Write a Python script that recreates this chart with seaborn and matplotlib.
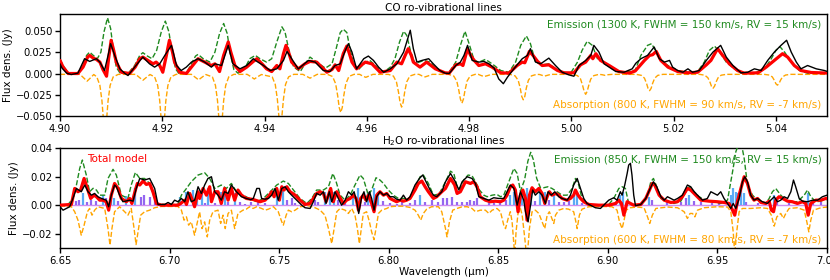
import matplotlib
matplotlib.use("Agg")
import matplotlib.pyplot as plt
import seaborn as sns

# ---------------- CO panel data (wavelength in micron, flux in Jy) ----------------
co_emission = [(4.9000,0.0165),(4.9006,0.0094),(4.9016,0.0008),(4.9035,0.0000),(4.9045,0.0094),(4.9052,0.0213),(4.9058,0.0252),(4.9065,0.0213),(4.9073,0.0174),(4.9080,0.0252),(4.9086,0.0489),(4.9093,0.0655),(4.9099,0.0529),(4.9104,0.0292),(4.9110,0.0075),(4.9117,0.0008),(4.9133,0.0000),(4.9146,0.0094),(4.9156,0.0213),(4.9162,0.0245),(4.9171,0.0205),(4.9180,0.0174),(4.9189,0.0272),(4.9198,0.0489),(4.9206,0.0616),(4.9213,0.0489),(4.9219,0.0252),(4.9226,0.0055),(4.9232,0.0004),(4.9247,0.0004),(4.9257,0.0114),(4.9265,0.0205),(4.9270,0.0225),(4.9280,0.0174),(4.9293,0.0134),(4.9303,0.0252),(4.9312,0.0470),(4.9320,0.0588),(4.9327,0.0470),(4.9333,0.0233),(4.9340,0.0047),(4.9348,0.0004),(4.9361,0.0055),(4.9371,0.0174),(4.9382,0.0213),(4.9391,0.0174),(4.9404,0.0134),(4.9414,0.0174),(4.9424,0.0371),(4.9434,0.0549),(4.9440,0.0489),(4.9447,0.0292),(4.9457,0.0075),(4.9470,0.0023),(4.9479,0.0114),(4.9489,0.0193),(4.9502,0.0134),(4.9519,0.0063),(4.9532,0.0114),(4.9540,0.0292),(4.9548,0.0481),(4.9554,0.0521),(4.9561,0.0481),(4.9567,0.0292),(4.9575,0.0094),(4.9584,0.0047),(4.9597,0.0134),(4.9606,0.0154),(4.9620,0.0075),(4.9633,0.0015),(4.9646,0.0075),(4.9655,0.0174),(4.9664,0.0371),(4.9672,0.0497),(4.9678,0.0450),(4.9686,0.0252),(4.9694,0.0114),(4.9711,0.0154),(4.9724,0.0134),(4.9737,0.0047),(4.9750,0.0004),(4.9761,0.0015),(4.9774,0.0134),(4.9783,0.0331),(4.9792,0.0497),(4.9800,0.0351),(4.9810,0.0154),(4.9819,0.0134),(4.9832,0.0166),(4.9845,0.0114),(4.9862,0.0035),(4.9878,0.0015),(4.9891,0.0134),(4.9901,0.0331),(4.9912,0.0442),(4.9920,0.0351),(4.9930,0.0134),(4.9943,0.0102),(4.9956,0.0114),(4.9969,0.0055),(4.9982,0.0015),(4.9999,0.0008),(5.0012,0.0134),(5.0021,0.0272),(5.0031,0.0379),(5.0041,0.0331),(5.0051,0.0174),(5.0067,0.0114),(5.0080,0.0055),(5.0100,0.0008),(5.0125,0.0040),(5.0136,0.0213),(5.0149,0.0331),(5.0157,0.0351),(5.0166,0.0252),(5.0175,0.0154),(5.0189,0.0094),(5.0208,0.0035),(5.0228,0.0015),(5.0247,0.0023),(5.0260,0.0134),(5.0270,0.0272),(5.0280,0.0323),(5.0290,0.0252),(5.0303,0.0134),(5.0319,0.0055),(5.0332,0.0004),(5.0358,0.0004),(5.0378,0.0055),(5.0391,0.0174),(5.0400,0.0272),(5.0408,0.0315),(5.0417,0.0252),(5.0430,0.0134),(5.0446,0.0035),(5.0462,0.0004),(5.0505,0.0004)]

co_absorption = [(4.9000,-0.0010),(4.9039,-0.0010),(4.9047,-0.0055),(4.9053,-0.0090),(4.9059,-0.0055),(4.9066,-0.0012),(4.9072,-0.0040),(4.9078,-0.0140),(4.9082,-0.0320),(4.9085,-0.0550),(4.9088,-0.0800),(4.9091,-0.0550),(4.9094,-0.0320),(4.9098,-0.0140),(4.9104,-0.0040),(4.9114,-0.0010),(4.9148,-0.0010),(4.9156,-0.0050),(4.9162,-0.0080),(4.9168,-0.0050),(4.9176,-0.0012),(4.9185,-0.0040),(4.9191,-0.0140),(4.9195,-0.0320),(4.9198,-0.0550),(4.9201,-0.0800),(4.9204,-0.0550),(4.9207,-0.0320),(4.9211,-0.0140),(4.9217,-0.0040),(4.9227,-0.0010),(4.9257,-0.0010),(4.9265,-0.0047),(4.9271,-0.0075),(4.9277,-0.0047),(4.9285,-0.0012),(4.9298,-0.0040),(4.9304,-0.0140),(4.9308,-0.0320),(4.9311,-0.0550),(4.9314,-0.0750),(4.9317,-0.0550),(4.9320,-0.0320),(4.9324,-0.0140),(4.9330,-0.0040),(4.9340,-0.0010),(4.9366,-0.0010),(4.9374,-0.0040),(4.9380,-0.0065),(4.9386,-0.0040),(4.9394,-0.0012),(4.9415,-0.0040),(4.9421,-0.0130),(4.9425,-0.0300),(4.9428,-0.0500),(4.9431,-0.0650),(4.9434,-0.0500),(4.9437,-0.0300),(4.9441,-0.0130),(4.9447,-0.0040),(4.9457,-0.0010),(4.9475,-0.0010),(4.9483,-0.0035),(4.9489,-0.0055),(4.9495,-0.0035),(4.9503,-0.0010),(4.9523,-0.0010),(4.9533,-0.0035),(4.9539,-0.0120),(4.9543,-0.0260),(4.9546,-0.0400),(4.9549,-0.0459),(4.9552,-0.0400),(4.9555,-0.0260),(4.9559,-0.0120),(4.9565,-0.0035),(4.9575,-0.0010),(4.9586,-0.0010),(4.9592,-0.0030),(4.9598,-0.0045),(4.9604,-0.0030),(4.9612,-0.0010),(4.9642,-0.0010),(4.9652,-0.0030),(4.9658,-0.0100),(4.9662,-0.0220),(4.9665,-0.0340),(4.9668,-0.0395),(4.9671,-0.0340),(4.9674,-0.0220),(4.9678,-0.0100),(4.9684,-0.0030),(4.9694,-0.0010),(4.9702,-0.0010),(4.9708,-0.0028),(4.9714,-0.0040),(4.9720,-0.0028),(4.9728,-0.0010),(4.9760,-0.0010),(4.9770,-0.0030),(4.9776,-0.0090),(4.9780,-0.0200),(4.9783,-0.0300),(4.9786,-0.0350),(4.9789,-0.0300),(4.9792,-0.0200),(4.9796,-0.0090),(4.9802,-0.0030),(4.9812,-0.0010),(4.9818,-0.0010),(4.9824,-0.0025),(4.9830,-0.0035),(4.9836,-0.0025),(4.9844,-0.0010),(4.9880,-0.0010),(4.9890,-0.0028),(4.9896,-0.0080),(4.9900,-0.0170),(4.9903,-0.0270),(4.9906,-0.0309),(4.9909,-0.0270),(4.9912,-0.0170),(4.9916,-0.0080),(4.9922,-0.0028),(4.9932,-0.0010),(4.9938,-0.0012),(4.9943,-0.0022),(4.9948,-0.0030),(4.9953,-0.0022),(4.9960,-0.0010),(5.0002,-0.0010),(5.0012,-0.0025),(5.0018,-0.0065),(5.0022,-0.0140),(5.0025,-0.0210),(5.0028,-0.0245),(5.0031,-0.0210),(5.0034,-0.0140),(5.0038,-0.0065),(5.0044,-0.0025),(5.0054,-0.0010),(5.0060,-0.0014),(5.0066,-0.0022),(5.0072,-0.0014),(5.0080,-0.0010),(5.0127,-0.0010),(5.0137,-0.0022),(5.0143,-0.0055),(5.0147,-0.0115),(5.0150,-0.0175),(5.0153,-0.0202),(5.0156,-0.0175),(5.0159,-0.0115),(5.0163,-0.0055),(5.0169,-0.0022),(5.0179,-0.0010),(5.0251,-0.0010),(5.0261,-0.0020),(5.0267,-0.0050),(5.0271,-0.0100),(5.0274,-0.0150),(5.0277,-0.0174),(5.0280,-0.0150),(5.0283,-0.0100),(5.0287,-0.0050),(5.0293,-0.0020),(5.0303,-0.0010),(5.0377,-0.0010),(5.0387,-0.0018),(5.0393,-0.0040),(5.0397,-0.0080),(5.0400,-0.0120),(5.0403,-0.0137),(5.0406,-0.0120),(5.0409,-0.0080),(5.0413,-0.0040),(5.0419,-0.0018),(5.0429,-0.0010),(5.0505,-0.0010)]

co_total = [(4.9000,0.0154),(4.9006,0.0075),(4.9016,0.0000),(4.9035,0.0000),(4.9045,0.0075),(4.9054,0.0193),(4.9058,0.0213),(4.9065,0.0181),(4.9071,0.0166),(4.9078,0.0134),(4.9084,0.0047),(4.9091,-0.0032),(4.9095,0.0174),(4.9100,0.0391),(4.9105,0.0272),(4.9110,0.0134),(4.9120,0.0015),(4.9136,0.0000),(4.9147,0.0075),(4.9156,0.0174),(4.9162,0.0193),(4.9172,0.0154),(4.9182,0.0114),(4.9188,0.0134),(4.9195,0.0094),(4.9201,0.0015),(4.9208,0.0213),(4.9214,0.0391),(4.9220,0.0252),(4.9224,0.0134),(4.9234,0.0015),(4.9247,0.0000),(4.9257,0.0075),(4.9270,0.0174),(4.9283,0.0134),(4.9296,0.0094),(4.9303,0.0114),(4.9312,0.0023),(4.9320,0.0213),(4.9329,0.0371),(4.9334,0.0252),(4.9342,0.0094),(4.9352,0.0023),(4.9365,0.0075),(4.9378,0.0142),(4.9385,0.0174),(4.9395,0.0114),(4.9404,0.0055),(4.9414,0.0023),(4.9424,0.0094),(4.9430,0.0055),(4.9437,0.0233),(4.9442,0.0331),(4.9448,0.0233),(4.9453,0.0134),(4.9466,0.0055),(4.9479,0.0114),(4.9489,0.0142),(4.9502,0.0134),(4.9522,0.0015),(4.9532,0.0047),(4.9538,0.0102),(4.9545,0.0035),(4.9554,0.0233),(4.9561,0.0323),(4.9566,0.0233),(4.9571,0.0134),(4.9580,0.0055),(4.9597,0.0134),(4.9610,0.0114),(4.9626,0.0015),(4.9646,0.0035),(4.9659,0.0134),(4.9668,0.0114),(4.9675,0.0213),(4.9681,0.0292),(4.9687,0.0213),(4.9691,0.0134),(4.9704,0.0075),(4.9717,0.0134),(4.9734,0.0055),(4.9753,0.0008),(4.9761,0.0004),(4.9774,0.0102),(4.9783,0.0114),(4.9788,0.0094),(4.9797,0.0292),(4.9803,0.0213),(4.9810,0.0154),(4.9819,0.0094),(4.9832,0.0114),(4.9845,0.0075),(4.9862,0.0008),(4.9878,0.0004),(4.9894,0.0094),(4.9904,0.0134),(4.9909,0.0126),(4.9918,0.0260),(4.9925,0.0213),(4.9934,0.0142),(4.9943,0.0094),(4.9956,0.0102),(4.9973,0.0035),(4.9986,0.0008),(5.0005,0.0008),(5.0018,0.0102),(5.0028,0.0134),(5.0038,0.0213),(5.0042,0.0174),(5.0048,0.0233),(5.0057,0.0154),(5.0074,0.0094),(5.0093,0.0023),(5.0113,0.0004),(5.0125,0.0030),(5.0143,0.0154),(5.0153,0.0213),(5.0159,0.0221),(5.0166,0.0260),(5.0175,0.0154),(5.0189,0.0075),(5.0208,0.0023),(5.0228,0.0008),(5.0247,0.0015),(5.0264,0.0102),(5.0273,0.0154),(5.0286,0.0292),(5.0296,0.0213),(5.0309,0.0114),(5.0325,0.0035),(5.0338,0.0004),(5.0365,0.0008),(5.0381,0.0075),(5.0397,0.0154),(5.0413,0.0233),(5.0423,0.0193),(5.0436,0.0094),(5.0449,0.0035),(5.0469,0.0012),(5.0505,0.0004)]

co_observed = [(4.9000,0.0114),(4.9004,0.0063),(4.9013,0.0004),(4.9022,-0.0012),(4.9035,0.0004),(4.9048,0.0174),(4.9058,0.0142),(4.9071,0.0174),(4.9078,0.0134),(4.9087,0.0035),(4.9094,0.0213),(4.9099,0.0351),(4.9107,0.0213),(4.9117,0.0055),(4.9127,0.0000),(4.9133,-0.0024),(4.9146,0.0075),(4.9162,0.0193),(4.9175,0.0114),(4.9185,0.0075),(4.9195,0.0114),(4.9205,0.0213),(4.9218,0.0331),(4.9228,0.0094),(4.9237,0.0035),(4.9247,0.0075),(4.9257,0.0134),(4.9270,0.0174),(4.9283,0.0134),(4.9296,0.0075),(4.9303,0.0114),(4.9316,0.0094),(4.9329,0.0331),(4.9338,0.0114),(4.9352,0.0055),(4.9365,0.0094),(4.9378,0.0174),(4.9385,0.0142),(4.9398,0.0094),(4.9411,0.0035),(4.9424,0.0055),(4.9437,0.0154),(4.9444,0.0260),(4.9453,0.0174),(4.9466,0.0055),(4.9486,0.0154),(4.9499,0.0134),(4.9515,0.0035),(4.9528,0.0023),(4.9538,0.0094),(4.9548,0.0114),(4.9558,0.0272),(4.9564,0.0351),(4.9571,0.0252),(4.9580,0.0055),(4.9594,0.0174),(4.9603,0.0205),(4.9613,0.0154),(4.9623,0.0075),(4.9633,0.0015),(4.9646,0.0055),(4.9659,0.0114),(4.9672,0.0252),(4.9685,0.0509),(4.9691,0.0292),(4.9698,0.0134),(4.9708,0.0154),(4.9721,0.0174),(4.9730,0.0114),(4.9743,0.0035),(4.9753,0.0004),(4.9761,0.0000),(4.9774,0.0094),(4.9783,0.0134),(4.9790,0.0213),(4.9797,0.0331),(4.9806,0.0154),(4.9819,0.0134),(4.9829,0.0142),(4.9839,0.0114),(4.9849,0.0063),(4.9858,-0.0064),(4.9867,-0.0120),(4.9875,-0.0044),(4.9885,0.0035),(4.9894,0.0102),(4.9904,0.0174),(4.9914,0.0213),(4.9920,0.0292),(4.9930,0.0134),(4.9940,0.0114),(4.9956,0.0181),(4.9969,0.0094),(4.9982,0.0015),(4.9995,-0.0016),(5.0005,-0.0032),(5.0015,0.0094),(5.0028,0.0154),(5.0038,0.0213),(5.0044,0.0331),(5.0054,0.0252),(5.0064,0.0114),(5.0074,0.0075),(5.0087,0.0023),(5.0103,0.0015),(5.0119,0.0055),(5.0126,0.0120),(5.0136,0.0174),(5.0149,0.0213),(5.0162,0.0312),(5.0172,0.0174),(5.0182,0.0134),(5.0192,0.0154),(5.0198,0.0075),(5.0208,0.0035),(5.0218,0.0015),(5.0228,0.0055),(5.0237,0.0015),(5.0250,0.0035),(5.0264,0.0154),(5.0277,0.0252),(5.0292,0.0331),(5.0303,0.0193),(5.0316,0.0094),(5.0332,0.0008),(5.0345,0.0015),(5.0358,0.0055),(5.0371,0.0035),(5.0384,0.0154),(5.0397,0.0252),(5.0410,0.0331),(5.0421,0.0391),(5.0430,0.0252),(5.0440,0.0134),(5.0449,0.0055),(5.0462,0.0094),(5.0479,0.0055),(5.0495,0.0035),(5.0505,0.0015)]

# ---------------- H2O panel data ----------------
h2o_emission = [(6.6500,0.0002),(6.6537,0.0007),(6.6559,0.0049),(6.6575,0.0143),(6.6590,0.0260),(6.6602,0.0318),(6.6620,0.0213),(6.6635,0.0096),(6.6651,0.0120),(6.6666,0.0108),(6.6681,0.0072),(6.6704,0.0072),(6.6719,0.0189),(6.6742,0.0253),(6.6757,0.0213),(6.6780,0.0072),(6.6810,0.0049),(6.6825,0.0143),(6.6844,0.0231),(6.6864,0.0189),(6.6886,0.0189),(6.6909,0.0154),(6.6932,0.0049),(6.6947,0.0007),(6.7038,0.0007),(6.7054,0.0072),(6.7077,0.0119),(6.7099,0.0166),(6.7130,0.0213),(6.7160,0.0229),(6.7183,0.0189),(6.7206,0.0119),(6.7236,0.0143),(6.7259,0.0119),(6.7282,0.0154),(6.7305,0.0096),(6.7335,0.0072),(6.7358,0.0054),(6.7381,0.0037),(6.7398,0.0026),(6.7428,0.0049),(6.7459,0.0096),(6.7489,0.0143),(6.7519,0.0171),(6.7542,0.0154),(6.7565,0.0108),(6.7595,0.0049),(6.7626,0.0014),(6.7649,0.0049),(6.7671,0.0108),(6.7702,0.0108),(6.7725,0.0131),(6.7745,0.0224),(6.7760,0.0166),(6.7778,0.0072),(6.7801,0.0037),(6.7824,0.0072),(6.7846,0.0143),(6.7869,0.0213),(6.7884,0.0189),(6.7907,0.0072),(6.7922,0.0108),(6.7942,0.0194),(6.7960,0.0178),(6.7976,0.0154),(6.7998,0.0108),(6.8021,0.0072),(6.8044,0.0049),(6.8067,0.0049),(6.8097,0.0049),(6.8120,0.0119),(6.8143,0.0201),(6.8158,0.0213),(6.8181,0.0154),(6.8204,0.0072),(6.8230,0.0080),(6.8259,0.0166),(6.8282,0.0240),(6.8297,0.0224),(6.8312,0.0131),(6.8327,0.0119),(6.8342,0.0178),(6.8362,0.0213),(6.8380,0.0208),(6.8396,0.0166),(6.8414,0.0108),(6.8434,0.0072),(6.8449,0.0061),(6.8472,0.0072),(6.8494,0.0077),(6.8510,0.0061),(6.8525,0.0072),(6.8548,0.0166),(6.8571,0.0259),(6.8586,0.0224),(6.8601,0.0100),(6.8620,0.0180),(6.8635,0.0310),(6.8648,0.0372),(6.8660,0.0320),(6.8675,0.0190),(6.8692,0.0125),(6.8707,0.0124),(6.8727,0.0131),(6.8745,0.0119),(6.8768,0.0096),(6.8791,0.0072),(6.8814,0.0072),(6.8837,0.0119),(6.8852,0.0189),(6.8867,0.0143),(6.8882,0.0049),(6.8905,0.0014),(6.8928,0.0002),(6.8974,0.0002),(6.9004,0.0007),(6.9027,0.0049),(6.9050,0.0119),(6.9065,0.0131),(6.9080,0.0119),(6.9095,0.0014),(6.9118,0.0002),(6.9150,0.0007),(6.9181,0.0072),(6.9196,0.0166),(6.9208,0.0189),(6.9223,0.0131),(6.9242,0.0049),(6.9272,0.0026),(6.9302,0.0014),(6.9333,0.0030),(6.9356,0.0096),(6.9371,0.0131),(6.9394,0.0096),(6.9416,0.0061),(6.9447,0.0037),(6.9485,0.0026),(6.9515,0.0014),(6.9546,0.0037),(6.9569,0.0236),(6.9584,0.0376),(6.9599,0.0440),(6.9607,0.0450),(6.9622,0.0330),(6.9637,0.0143),(6.9660,0.0072),(6.9683,0.0037),(6.9698,0.0026),(6.9721,0.0014),(6.9736,0.0049),(6.9751,0.0096),(6.9766,0.0119),(6.9789,0.0072),(6.9812,0.0037),(6.9835,0.0026),(6.9865,0.0026),(6.9896,0.0072),(6.9911,0.0108),(6.9926,0.0061),(6.9949,0.0026),(6.9972,0.0030),(6.9995,0.0049),(7.0000,0.0037)]

h2o_absorption = [(6.6500,-0.0002),(6.6552,-0.0009),(6.6567,-0.0044),(6.6582,-0.0103),(6.6597,-0.0208),(6.6610,-0.0138),(6.6625,-0.0044),(6.6635,-0.0021),(6.6646,-0.0068),(6.6658,-0.0033),(6.6673,-0.0009),(6.6704,-0.0021),(6.6719,-0.0162),(6.6728,-0.0278),(6.6737,-0.0162),(6.6749,-0.0044),(6.6772,-0.0009),(6.6795,-0.0044),(6.6810,-0.0068),(6.6825,-0.0021),(6.6838,-0.0162),(6.6847,-0.0274),(6.6856,-0.0185),(6.6868,-0.0068),(6.6886,-0.0044),(6.6909,-0.0033),(6.6932,-0.0016),(6.6962,-0.0007),(6.7038,-0.0007),(6.7054,-0.0033),(6.7066,-0.0103),(6.7077,-0.0080),(6.7087,-0.0138),(6.7099,-0.0115),(6.7114,-0.0208),(6.7127,-0.0115),(6.7137,-0.0044),(6.7148,-0.0162),(6.7160,-0.0115),(6.7172,-0.0220),(6.7183,-0.0103),(6.7198,-0.0044),(6.7221,-0.0033),(6.7233,-0.0126),(6.7244,-0.0068),(6.7254,-0.0162),(6.7267,-0.0056),(6.7282,-0.0033),(6.7297,-0.0162),(6.7312,-0.0056),(6.7335,-0.0033),(6.7350,-0.0026),(6.7365,-0.0009),(6.7381,-0.0021),(6.7398,-0.0009),(6.7420,-0.0021),(6.7436,-0.0033),(6.7451,-0.0026),(6.7474,-0.0009),(6.7496,-0.0044),(6.7512,-0.0115),(6.7519,-0.0138),(6.7532,-0.0068),(6.7542,-0.0033),(6.7557,-0.0044),(6.7573,-0.0033),(6.7595,-0.0009),(6.7633,-0.0002),(6.7664,-0.0016),(6.7687,-0.0033),(6.7709,-0.0068),(6.7725,-0.0162),(6.7740,-0.0267),(6.7751,-0.0162),(6.7763,-0.0044),(6.7778,-0.0021),(6.7801,-0.0033),(6.7816,-0.0056),(6.7831,-0.0021),(6.7846,-0.0068),(6.7857,-0.0162),(6.7866,-0.0267),(6.7875,-0.0162),(6.7884,-0.0056),(6.7899,-0.0044),(6.7912,-0.0115),(6.7922,-0.0185),(6.7933,-0.0239),(6.7942,-0.0162),(6.7953,-0.0056),(6.7968,-0.0033),(6.7991,-0.0021),(6.8006,-0.0009),(6.8036,-0.0005),(6.8067,-0.0005),(6.8097,-0.0014),(6.8120,-0.0033),(6.8135,-0.0068),(6.8146,-0.0103),(6.8158,-0.0056),(6.8173,-0.0026),(6.8196,-0.0009),(6.8227,-0.0009),(6.8242,-0.0044),(6.8259,-0.0162),(6.8266,-0.0220),(6.8277,-0.0115),(6.8292,-0.0033),(6.8312,-0.0021),(6.8335,-0.0009),(6.8358,-0.0009),(6.8380,-0.0021),(6.8396,-0.0044),(6.8418,-0.0033),(6.8441,-0.0033),(6.8457,-0.0056),(6.8472,-0.0033),(6.8494,-0.0021),(6.8510,-0.0044),(6.8525,-0.0138),(6.8533,-0.0162),(6.8545,-0.0091),(6.8555,-0.0044),(6.8563,-0.0115),(6.8571,-0.0278),(6.8575,-0.0350),(6.8581,-0.0185),(6.8590,-0.0056),(6.8601,-0.0021),(6.8609,-0.0068),(6.8621,-0.0232),(6.8631,-0.0380),(6.8642,-0.0162),(6.8654,-0.0044),(6.8669,-0.0033),(6.8685,-0.0056),(6.8700,-0.0115),(6.8712,-0.0162),(6.8723,-0.0068),(6.8733,-0.0044),(6.8742,-0.0080),(6.8753,-0.0126),(6.8761,-0.0068),(6.8776,-0.0033),(6.8799,-0.0021),(6.8821,-0.0026),(6.8844,-0.0044),(6.8852,-0.0100),(6.8860,-0.0162),(6.8870,-0.0068),(6.8882,-0.0026),(6.8913,-0.0009),(6.8974,-0.0007),(6.9019,-0.0009),(6.9042,-0.0033),(6.9053,-0.0115),(6.9065,-0.0162),(6.9074,-0.0103),(6.9083,-0.0033),(6.9103,-0.0016),(6.9133,-0.0011),(6.9165,-0.0016),(6.9181,-0.0080),(6.9191,-0.0126),(6.9203,-0.0068),(6.9219,-0.0021),(6.9272,-0.0011),(6.9318,-0.0016),(6.9348,-0.0044),(6.9363,-0.0091),(6.9375,-0.0056),(6.9386,-0.0056),(6.9397,-0.0080),(6.9409,-0.0033),(6.9439,-0.0016),(6.9500,-0.0009),(6.9546,-0.0011),(6.9561,-0.0044),(6.9572,-0.0185),(6.9579,-0.0340),(6.9588,-0.0185),(6.9599,-0.0044),(6.9614,-0.0021),(6.9652,-0.0021),(6.9698,-0.0016),(6.9728,-0.0021),(6.9746,-0.0068),(6.9759,-0.0145),(6.9771,-0.0080),(6.9789,-0.0056),(6.9801,-0.0091),(6.9812,-0.0056),(6.9827,-0.0021),(6.9865,-0.0016),(6.9896,-0.0033),(6.9908,-0.0115),(6.9917,-0.0185),(6.9926,-0.0103),(6.9938,-0.0033),(6.9972,-0.0016),(7.0000,-0.0011)]

h2o_total = [(6.6500,0.0002),(6.6552,0.0007),(6.6567,0.0119),(6.6582,0.0096),(6.6594,0.0108),(6.6610,0.0189),(6.6625,0.0119),(6.6640,0.0049),(6.6655,0.0072),(6.6666,0.0061),(6.6681,0.0037),(6.6696,0.0037),(6.6711,0.0026),(6.6722,-0.0033),(6.6734,0.0072),(6.6749,0.0154),(6.6765,0.0119),(6.6780,0.0049),(6.6803,0.0026),(6.6818,0.0049),(6.6828,0.0014),(6.6844,0.0108),(6.6853,0.0154),(6.6864,0.0143),(6.6879,0.0171),(6.6894,0.0147),(6.6909,0.0154),(6.6924,0.0096),(6.6940,0.0014),(6.6962,0.0002),(6.7038,0.0002),(6.7051,0.0014),(6.7069,0.0037),(6.7077,0.0007),(6.7092,0.0084),(6.7107,0.0026),(6.7114,-0.0009),(6.7130,0.0096),(6.7137,0.0049),(6.7153,0.0119),(6.7168,0.0072),(6.7183,0.0131),(6.7191,0.0026),(6.7206,0.0096),(6.7221,0.0096),(6.7236,0.0014),(6.7251,0.0119),(6.7267,0.0037),(6.7282,0.0119),(6.7297,0.0037),(6.7312,0.0108),(6.7328,0.0072),(6.7350,0.0049),(6.7381,0.0042),(6.7413,0.0026),(6.7436,0.0037),(6.7451,0.0061),(6.7466,0.0096),(6.7477,0.0061),(6.7489,0.0119),(6.7501,0.0037),(6.7512,0.0131),(6.7522,0.0108),(6.7535,0.0131),(6.7550,0.0096),(6.7573,0.0072),(6.7595,0.0037),(6.7618,0.0007),(6.7641,0.0014),(6.7656,0.0049),(6.7671,0.0084),(6.7687,0.0096),(6.7702,0.0084),(6.7714,0.0026),(6.7725,0.0072),(6.7735,0.0119),(6.7747,0.0026),(6.7763,0.0096),(6.7775,0.0061),(6.7793,0.0014),(6.7808,0.0037),(6.7824,0.0049),(6.7839,0.0072),(6.7851,0.0049),(6.7862,-0.0033),(6.7872,0.0049),(6.7884,0.0072),(6.7896,0.0037),(6.7907,0.0072),(6.7922,0.0014),(6.7933,-0.0044),(6.7945,0.0072),(6.7960,0.0096),(6.7976,0.0072),(6.7991,0.0084),(6.8006,0.0049),(6.8021,0.0037),(6.8036,0.0026),(6.8052,0.0037),(6.8067,0.0030),(6.8082,0.0037),(6.8097,0.0049),(6.8120,0.0108),(6.8135,0.0154),(6.8151,0.0171),(6.8166,0.0131),(6.8181,0.0096),(6.8204,0.0049),(6.8219,0.0061),(6.8242,0.0096),(6.8259,0.0119),(6.8282,0.0189),(6.8301,0.0143),(6.8312,0.0084),(6.8327,0.0096),(6.8350,0.0166),(6.8373,0.0154),(6.8388,0.0166),(6.8403,0.0131),(6.8418,0.0061),(6.8441,0.0037),(6.8464,0.0026),(6.8487,0.0030),(6.8510,0.0026),(6.8525,0.0037),(6.8540,0.0072),(6.8555,0.0131),(6.8566,0.0143),(6.8578,0.0108),(6.8590,-0.0044),(6.8601,0.0072),(6.8612,0.0108),(6.8624,0.0049),(6.8631,-0.0103),(6.8642,0.0072),(6.8654,0.0124),(6.8669,0.0096),(6.8685,0.0119),(6.8700,0.0084),(6.8712,0.0014),(6.8723,0.0061),(6.8733,0.0096),(6.8745,0.0072),(6.8761,0.0084),(6.8776,0.0072),(6.8791,0.0049),(6.8814,0.0037),(6.8829,0.0049),(6.8844,0.0072),(6.8852,0.0108),(6.8864,0.0072),(6.8875,0.0049),(6.8890,0.0026),(6.8913,0.0007),(6.8958,0.0002),(6.9004,0.0002),(6.9035,0.0014),(6.9050,0.0037),(6.9062,0.0014),(6.9073,-0.0068),(6.9088,0.0026),(6.9103,0.0014),(6.9118,0.0002),(6.9150,0.0007),(6.9173,0.0049),(6.9193,0.0119),(6.9203,0.0154),(6.9214,0.0143),(6.9234,0.0072),(6.9257,0.0037),(6.9287,0.0021),(6.9318,0.0026),(6.9340,0.0061),(6.9363,0.0119),(6.9378,0.0108),(6.9401,0.0072),(6.9424,0.0037),(6.9462,0.0030),(6.9500,0.0026),(6.9530,0.0021),(6.9553,0.0014),(6.9569,-0.0033),(6.9579,-0.0068),(6.9591,0.0026),(6.9607,0.0119),(6.9622,0.0201),(6.9637,0.0154),(6.9652,0.0072),(6.9667,0.0037),(6.9683,0.0049),(6.9698,0.0021),(6.9721,0.0014),(6.9736,0.0030),(6.9746,-0.0033),(6.9756,-0.0044),(6.9766,0.0037),(6.9781,0.0061),(6.9797,0.0049),(6.9820,0.0030),(6.9842,0.0026),(6.9865,0.0014),(6.9888,0.0026),(6.9903,0.0014),(6.9914,-0.0068),(6.9926,0.0014),(6.9949,0.0037),(6.9972,0.0037),(6.9995,0.0049),(7.0000,0.0049)]

h2o_observed = [(6.6500,-0.0009),(6.6514,-0.0033),(6.6529,-0.0021),(6.6544,-0.0009),(6.6559,0.0049),(6.6575,0.0119),(6.6597,0.0096),(6.6613,0.0143),(6.6628,0.0096),(6.6643,0.0072),(6.6658,0.0084),(6.6673,0.0061),(6.6689,0.0049),(6.6711,0.0037),(6.6722,-0.0009),(6.6734,0.0072),(6.6749,0.0143),(6.6757,0.0131),(6.6772,0.0072),(6.6787,0.0026),(6.6818,0.0037),(6.6833,0.0030),(6.6848,0.0119),(6.6864,0.0189),(6.6886,0.0178),(6.6909,0.0189),(6.6932,0.0119),(6.6947,0.0007),(6.6978,0.0007),(6.6993,0.0021),(6.7008,0.0007),(6.7023,0.0037),(6.7038,0.0026),(6.7054,0.0049),(6.7069,0.0026),(6.7084,0.0096),(6.7099,0.0026),(6.7114,0.0037),(6.7130,0.0131),(6.7145,0.0084),(6.7160,0.0143),(6.7175,0.0189),(6.7191,0.0201),(6.7206,0.0096),(6.7221,0.0072),(6.7236,0.0037),(6.7251,0.0096),(6.7267,0.0084),(6.7282,0.0143),(6.7305,0.0096),(6.7328,0.0061),(6.7350,0.0049),(6.7370,0.0040),(6.7382,0.0049),(6.7398,0.0119),(6.7410,0.0119),(6.7420,0.0049),(6.7436,0.0044),(6.7451,0.0049),(6.7466,0.0072),(6.7481,0.0119),(6.7496,0.0037),(6.7512,0.0119),(6.7527,0.0131),(6.7542,0.0096),(6.7557,0.0072),(6.7580,0.0037),(6.7603,0.0002),(6.7618,-0.0016),(6.7641,-0.0021),(6.7656,0.0026),(6.7671,0.0084),(6.7687,0.0072),(6.7702,0.0096),(6.7714,0.0014),(6.7729,0.0096),(6.7740,0.0026),(6.7755,0.0096),(6.7770,0.0049),(6.7785,0.0002),(6.7801,0.0037),(6.7816,0.0096),(6.7831,0.0072),(6.7842,0.0096),(6.7854,0.0026),(6.7863,-0.0056),(6.7877,0.0061),(6.7887,0.0096),(6.7899,0.0026),(6.7912,0.0096),(6.7922,0.0049),(6.7933,-0.0033),(6.7945,0.0061),(6.7960,0.0096),(6.7976,0.0072),(6.7991,0.0084),(6.8006,0.0061),(6.8021,0.0061),(6.8036,0.0044),(6.8052,0.0037),(6.8067,0.0072),(6.8082,0.0037),(6.8097,0.0061),(6.8120,0.0143),(6.8140,0.0189),(6.8155,0.0213),(6.8170,0.0166),(6.8189,0.0108),(6.8204,0.0072),(6.8219,0.0061),(6.8242,0.0096),(6.8259,0.0166),(6.8282,0.0224),(6.8304,0.0166),(6.8320,0.0108),(6.8335,0.0166),(6.8358,0.0201),(6.8380,0.0189),(6.8396,0.0154),(6.8411,0.0061),(6.8434,0.0049),(6.8457,0.0037),(6.8479,0.0054),(6.8502,0.0049),(6.8525,0.0049),(6.8540,0.0096),(6.8555,0.0143),(6.8571,0.0119),(6.8586,0.0002),(6.8601,0.0096),(6.8616,0.0037),(6.8624,-0.0044),(6.8636,-0.0115),(6.8647,0.0002),(6.8657,0.0108),(6.8669,0.0072),(6.8685,0.0096),(6.8700,0.0072),(6.8715,0.0014),(6.8727,0.0096),(6.8742,0.0072),(6.8758,0.0096),(6.8776,0.0061),(6.8791,0.0049),(6.8814,0.0037),(6.8829,0.0072),(6.8844,0.0143),(6.8860,0.0189),(6.8875,0.0119),(6.8890,0.0049),(6.8905,0.0014),(6.8920,0.0002),(6.8943,-0.0016),(6.8966,-0.0021),(6.8989,0.0014),(6.9004,0.0037),(6.9027,0.0054),(6.9042,0.0037),(6.9057,0.0096),(6.9065,0.0072),(6.9077,0.0143),(6.9088,0.0224),(6.9095,0.0283),(6.9103,0.0295),(6.9110,0.0213),(6.9118,0.0072),(6.9126,-0.0002),(6.9150,0.0007),(6.9173,0.0049),(6.9193,0.0119),(6.9208,0.0166),(6.9223,0.0131),(6.9242,0.0061),(6.9257,0.0037),(6.9272,0.0061),(6.9287,0.0049),(6.9302,0.0037),(6.9318,0.0049),(6.9340,0.0072),(6.9363,0.0143),(6.9378,0.0131),(6.9394,0.0096),(6.9416,0.0061),(6.9432,0.0037),(6.9454,0.0049),(6.9470,0.0096),(6.9485,0.0084),(6.9500,0.0072),(6.9515,0.0096),(6.9530,0.0049),(6.9546,0.0014),(6.9561,-0.0021),(6.9572,0.0014),(6.9584,-0.0021),(6.9599,0.0049),(6.9614,0.0166),(6.9625,0.0201),(6.9637,0.0166),(6.9652,0.0072),(6.9667,0.0037),(6.9683,0.0049),(6.9705,0.0026),(6.9728,0.0014),(6.9743,0.0037),(6.9759,0.0061),(6.9774,0.0026),(6.9789,0.0037),(6.9804,0.0061),(6.9820,0.0049),(6.9835,0.0096),(6.9847,0.0178),(6.9857,0.0131),(6.9873,0.0049),(6.9888,0.0030),(6.9911,0.0026),(6.9934,0.0037),(6.9957,0.0037),(6.9979,0.0061),(7.0000,0.0072)]

# individual line strengths (two groups of lines)
lines_blue = [(6.6605,0.0084),(6.6696,0.0072),(6.6731,0.0077),(6.6746,0.0049),(6.6803,0.0068),(6.6841,0.0119),(6.7046,0.0061),(6.7077,0.0096),(6.7107,0.0108),(6.7127,0.0084),(6.7148,0.0096),(6.7175,0.0119),(6.7233,0.0096),(6.7251,0.0108),(6.7297,0.0084),(6.7492,0.0072),(6.7516,0.0108),(6.7709,0.0096),(6.7732,0.0108),(6.7751,0.0096),(6.7839,0.0072),(6.7862,0.0124),(6.7907,0.0096),(6.7933,0.0119),(6.7953,0.0096),(6.8143,0.0072),(6.8555,0.0072),(6.8571,0.0096),(6.8609,0.0108),(6.8631,0.0119),(6.8647,0.0096),(6.8692,0.0084),(6.8712,0.0096),(6.8753,0.0084),(6.8844,0.0072),(6.8860,0.0096),(6.9057,0.0072),(6.9068,0.0096),(6.9188,0.0061),(6.9371,0.0072),(6.9561,0.0072),(6.9573,0.0119),(6.9584,0.0096),(6.9594,0.0084),(6.9607,0.0108),(6.9619,0.0084),(6.9759,0.0072),(6.9914,0.0084)]
lines_purple = [(6.6575,0.0030),(6.6585,0.0035),(6.6625,0.0021),(6.6643,0.0037),(6.6666,0.0030),(6.6711,0.0049),(6.6765,0.0030),(6.6871,0.0061),(6.6883,0.0072),(6.6909,0.0061),(6.6932,0.0037),(6.7160,0.0014),(6.7206,0.0014),(6.7267,0.0021),(6.7320,0.0026),(6.7343,0.0007),(6.7373,0.0021),(6.7405,0.0026),(6.7436,0.0014),(6.7535,0.0037),(6.7557,0.0049),(6.7573,0.0014),(6.7633,0.0014),(6.7664,0.0037),(6.7679,0.0026),(6.7770,0.0037),(6.7801,0.0026),(6.7892,0.0026),(6.7973,0.0030),(6.8006,0.0014),(6.8036,0.0007),(6.8059,0.0021),(6.8097,0.0014),(6.8120,0.0037),(6.8166,0.0026),(6.8196,0.0037),(6.8227,0.0026),(6.8249,0.0049),(6.8266,0.0049),(6.8289,0.0061),(6.8312,0.0026),(6.8335,0.0021),(6.8358,0.0026),(6.8373,0.0037),(6.8388,0.0030),(6.8403,0.0049),(6.8457,0.0026),(6.8479,0.0014),(6.8510,0.0026),(6.8533,0.0037),(6.8586,0.0026),(6.8669,0.0030),(6.8733,0.0037),(6.8776,0.0026),(6.8799,0.0021),(6.8821,0.0030),(6.8882,0.0014),(6.9004,0.0007),(6.9035,0.0014),(6.9088,0.0026),(6.9110,0.0014),(6.9158,0.0007),(6.9203,0.0037),(6.9272,0.0021),(6.9333,0.0021),(6.9356,0.0049),(6.9394,0.0030),(6.9424,0.0026),(6.9477,0.0014),(6.9508,0.0021),(6.9546,0.0014),(6.9629,0.0026),(6.9683,0.0014),(6.9774,0.0026),(6.9827,0.0014),(6.9934,0.0021),(6.9972,0.0026)]

co_xticks = [4.90, 4.92, 4.94, 4.96, 4.98, 5.00, 5.02, 5.04]
co_yticks = [-0.050, -0.025, 0.000, 0.025, 0.050]
h2o_xticks = [6.65, 6.70, 6.75, 6.80, 6.85, 6.90, 6.95, 7.00]
h2o_yticks = [-0.02, 0.00, 0.02, 0.04]

co_title = "CO ro-vibrational lines"
h2o_title = "H$_2$O ro-vibrational lines"
co_em_label = "Emission (1300 K, FWHM = 150 km/s, RV = 15 km/s)"
co_ab_label = "Absorption (800 K, FWHM = 90 km/s, RV = -7 km/s)"
h2o_em_label = "Emission (850 K, FWHM = 150 km/s, RV = 15 km/s)"
h2o_ab_label = "Absorption (600 K, FWHM = 80 km/s, RV = -7 km/s)"

# ---------------- plotting ----------------
sns.set_theme(style="ticks")
plt.rcParams['font.family'] = ['DejaVu Sans']
plt.rcParams.update({
    'xtick.labelsize': 7.2, 'ytick.labelsize': 7.2,
    'axes.labelsize': 7.5, 'axes.titlesize': 7.5,
    'axes.linewidth': 1.0, 'xtick.major.width': 1.0, 'ytick.major.width': 1.0,
    'xtick.major.size': 3.5, 'ytick.major.size': 3.5,
    'xtick.major.pad': 2.0, 'ytick.major.pad': 2.0,
    'axes.edgecolor': 'black', 'xtick.color': 'black', 'ytick.color': 'black',
    'axes.labelcolor': 'black', 'text.color': 'black',
})

GREEN = '#1f8a1f'
ORANGE = '#ffa500'
RED = '#ff0000'
BLUE = '#5aaaf5'
PURPLE = '#9466f0'

fig = plt.figure(figsize=(8.3, 2.8), dpi=100)
ax1 = fig.add_axes([0.0723, 0.5857, 0.9241, 0.3643])
ax2 = fig.add_axes([0.0723, 0.1132, 0.9241, 0.3571])


def draw(ax, series, color, lw, ls, z):
    xs = [p[0] for p in series]
    ys = [p[1] for p in series]
    sns.lineplot(x=xs, y=ys, ax=ax, color=color, linewidth=lw, linestyle=ls,
                 estimator=None, sort=False, zorder=z)


# CO panel
draw(ax1, co_absorption, ORANGE, 1.0, '--', 2)
draw(ax1, co_emission, GREEN, 1.0, '--', 3)
draw(ax1, co_total, RED, 2.3, '-', 4)
draw(ax1, co_observed, 'black', 1.0, '-', 5)
ax1.set_xlim(4.90, 5.05)
ax1.set_ylim(-0.05, 0.07)
ax1.set_xticks(co_xticks)
ax1.set_xticklabels([f"{v:.2f}" for v in co_xticks])
ax1.set_yticks(co_yticks)
ax1.set_yticklabels([f"{v:.3f}".replace('-', '\u2212') for v in co_yticks])
ax1.set_ylabel("Flux dens. (Jy)", labelpad=2)
ax1.set_title(co_title, pad=2)
ax1.text(0.993, 0.897, co_em_label, color=GREEN, fontsize=7.5, ha='right', va='center', transform=ax1.transAxes)
ax1.text(0.993, 0.108, co_ab_label, color=ORANGE, fontsize=7.5, ha='right', va='center', transform=ax1.transAxes)

# H2O panel
ax2.axhline(0, color='#d08cf0', lw=1.0, zorder=1)
ax2.vlines([p[0] for p in lines_purple], 0, [p[1] for p in lines_purple], colors=PURPLE, linewidth=1.6, zorder=1.5)
ax2.vlines([p[0] for p in lines_blue], 0, [p[1] for p in lines_blue], colors=BLUE, linewidth=1.6, zorder=1.6)
draw(ax2, h2o_absorption, ORANGE, 1.0, '--', 2)
draw(ax2, h2o_emission, GREEN, 1.0, '--', 3)
draw(ax2, h2o_total, RED, 2.3, '-', 4)
draw(ax2, h2o_observed, 'black', 1.0, '-', 5)
ax2.set_xlim(6.65, 7.00)
ax2.set_ylim(-0.03, 0.04)
ax2.set_xticks(h2o_xticks)
ax2.set_xticklabels([f"{v:.2f}" for v in h2o_xticks])
ax2.set_yticks(h2o_yticks)
ax2.set_yticklabels([f"{v:.2f}".replace('-', '\u2212') for v in h2o_yticks])
ax2.set_ylabel("Flux dens. (Jy)", labelpad=2)
ax2.set_xlabel("Wavelength (\u00b5m)", labelpad=1)
ax2.set_title(h2o_title, pad=2)
ax2.text(0.993, 0.89, h2o_em_label, color=GREEN, fontsize=7.5, ha='right', va='center', transform=ax2.transAxes)
ax2.text(0.993, 0.083, h2o_ab_label, color=ORANGE, fontsize=7.5, ha='right', va='center', transform=ax2.transAxes)
ax2.text(0.0356, 0.895, "Total model", color=RED, fontsize=7.5, ha='left', va='center', transform=ax2.transAxes)

for ax in (ax1, ax2):
    for s in ax.spines.values():
        s.set_color('black')
        s.set_linewidth(1.0)

fig.savefig("out.png", dpi=100)
